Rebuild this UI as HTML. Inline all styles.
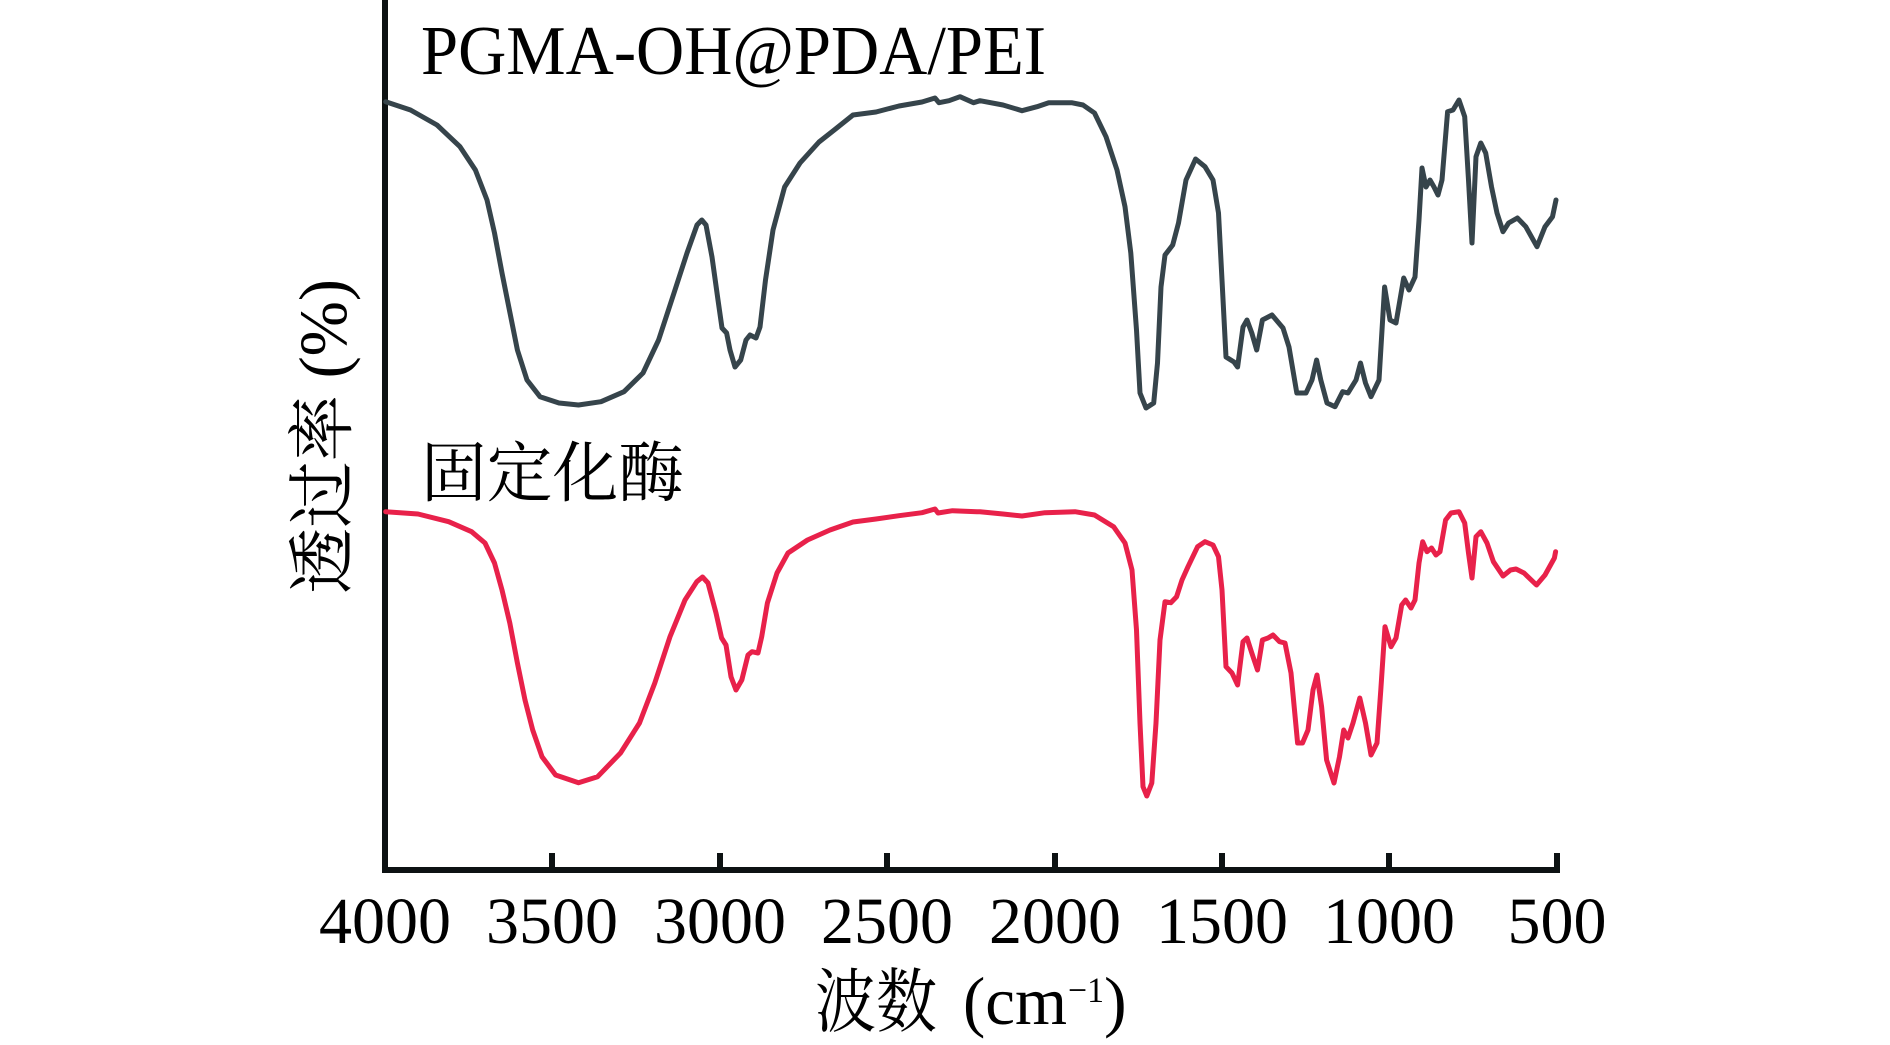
<!DOCTYPE html>
<html>
<head>
<meta charset="utf-8">
<style>
html,body{margin:0;padding:0;background:#fff;}
svg{display:block;}
.t{font-family:"Liberation Serif","Noto Serif CJK SC",serif;fill:#000;}
.c{font-family:"Liberation Serif","Noto Serif CJK SC",serif;fill:#000;}
</style>
</head>
<body>
<svg width="1890" height="1045" viewBox="0 0 1890 1045" xmlns="http://www.w3.org/2000/svg">
<rect width="1890" height="1045" fill="#fff"/>

<!-- axes -->
<line x1="385" y1="0" x2="385" y2="873" stroke="#0d1213" stroke-width="6"/>
<line x1="382" y1="870" x2="1560" y2="870" stroke="#0d1213" stroke-width="6"/>
<g stroke="#0d1213" stroke-width="6">
<line x1="552" y1="870" x2="552" y2="853"/>
<line x1="720" y1="870" x2="720" y2="853"/>
<line x1="887" y1="870" x2="887" y2="853"/>
<line x1="1055" y1="870" x2="1055" y2="853"/>
<line x1="1222" y1="870" x2="1222" y2="853"/>
<line x1="1389" y1="870" x2="1389" y2="853"/>
<line x1="1557" y1="873" x2="1557" y2="853"/>
</g>

<!-- tick labels -->
<g class="t" font-size="66" text-anchor="middle">
<text x="385" y="943">4000</text>
<text x="552" y="943">3500</text>
<text x="720" y="943">3000</text>
<text x="887" y="943">2500</text>
<text x="1055" y="943">2000</text>
<text x="1222" y="943">1500</text>
<text x="1389" y="943">1000</text>
<text x="1557" y="943">500</text>
</g>

<!-- x label -->
<text class="c" x="815" y="1026" font-size="70" textLength="122" lengthAdjust="spacingAndGlyphs">波数</text>
<text class="t" x="963" y="1024" font-size="68" textLength="104" lengthAdjust="spacingAndGlyphs">(cm</text>
<text class="t" x="1068" y="1002" font-size="36" textLength="36" lengthAdjust="spacingAndGlyphs">−1</text>
<text class="t" x="1104" y="1024" font-size="68">)</text>

<!-- y label -->
<g transform="translate(346,437) rotate(-90)">
<text class="c" x="-157" y="0" font-size="68" textLength="315" lengthAdjust="spacingAndGlyphs">透过率 (%)</text>
</g>

<!-- series labels -->
<text class="t" x="421" y="74" font-size="70" textLength="625" lengthAdjust="spacingAndGlyphs">PGMA-OH@PDA/PEI</text>
<text class="c" x="421" y="496" font-size="66" textLength="263" lengthAdjust="spacingAndGlyphs">固定化酶</text>

<!-- top curve -->
<path fill="none" stroke="#36444b" stroke-width="5" stroke-linejoin="round" stroke-linecap="round"
d="M385.7,101.7 L410.5,110 437,125 460,146.7 475.4,170 487,200 494.5,233 502,273 510,313 517.4,350 527,380 540,396.7 559,403 578.5,405 601,401.7 624,391.7 643,373 658.6,340 674,293 687,253 697,225 701.8,220 706,225 712,257 718,300 722,328 726.6,333 730,350 735,367 740.7,360 746,340 750,335 756,338 760,327 765.5,280 773,230 784.6,187 800,163 819,142 838,127 853,115 876,112 899,106 922,102 935,98 939,102.7 949,100.7 960,96.7 973.5,102.7 980,100.7 1003,105 1022,110.7 1037,106.7 1048.7,102.7 1071.6,102.7 1083,105 1094.5,113 1106,136.7 1117,170 1125,206.7 1130.8,253 1136.5,330 1140,393 1146,408 1153.7,403 1157.5,363 1161,287 1165,255 1172.7,245 1178.5,223 1186,180 1195.6,159 1205,166.7 1213,180 1218.5,213 1222,280 1226,357 1234,362 1237.6,367 1243,327 1247,320 1251.8,333 1256.7,350 1262.4,320 1272,315 1277.7,321.7 1283,328 1289,347 1296.8,393 1306,393 1312,380 1316.6,360 1320.8,380 1327,403 1335,406.7 1342.6,391.7 1348,393 1356,380 1360.5,363 1365.5,383 1371,396.7 1379,380 1384.6,287 1390,320 1396,323 1403.7,278 1409,290 1415,277 1419,220 1422,168 1426,187 1430,180 1434,187 1438,195 1442,180 1447.6,111.7 1453,110 1459,100 1464.7,116.7 1468.5,180 1472,243 1476,156.7 1480.8,143 1485.7,153 1491.5,186.7 1497,213 1503,231.7 1508.6,223 1517.4,218 1525.8,226.7 1537,246.7 1545,226.7 1552.5,216.7 1556,200"/>

<!-- bottom curve -->
<path fill="none" stroke="#e8214a" stroke-width="5" stroke-linejoin="round" stroke-linecap="round"
d="M385.7,511.7 L418,514 448.7,521.7 471.6,531.7 485,543 494.5,563 502,590 509.8,623 517.4,663 525,700 532.7,730 542,756.7 555.6,775 578.5,782.7 597.6,776.7 620.5,753 639.5,723 654.8,683 670,636.7 685,600 696.8,581.7 702.5,577 708,583 716,613 721.6,638 726,645 731,676.7 736,690 741.8,680 748,655 752,651.7 758,653 761.7,636.7 767.4,603 777,573 788,553 807.5,540 830,530 853,522 876,519 899,515.7 922,512.7 935,509 938,513 952.5,510.7 977,511.7 980,511.7 1003,514 1022,516 1045,512.7 1075,511.7 1094.5,515 1113.6,526.7 1125,543 1132,570 1136.5,630 1140,723 1143,786.7 1146.8,796 1151.8,783 1156,723 1160,640 1165,601.7 1170.8,602.7 1176.6,596.7 1182,580 1188,566.7 1197.6,546.7 1205,541.7 1213,545 1218.5,556.7 1222,590 1226,666.7 1232,673 1237.6,685 1243,641.7 1247,638 1251.8,653 1257.5,670 1262.4,640 1268,638 1273,635 1279.6,641.7 1285,643 1291,673 1297.6,743 1302.5,743 1308,730 1313,690 1317,675 1321.6,706.7 1326.6,760 1334,783 1339.5,756.7 1343.7,730 1348,738 1353,723 1359.8,698 1365.5,723 1371,755 1377,743 1380.8,690 1385,626.7 1391,646.7 1396,638 1401.7,605 1405.6,600 1411,608 1415,600 1419,563 1422.7,541.7 1427,551.7 1431.5,548 1436,555 1440,551.7 1445.6,520 1451,513 1459,511.7 1464.7,523 1468.5,553 1472,578 1476,536.7 1480.8,531.7 1487,543 1493.4,561.7 1503,576 1510.5,570 1516,569 1524,573 1536.5,585 1545,575 1554.4,558 1555.6,551.7"/>
</svg>
</body>
</html>
